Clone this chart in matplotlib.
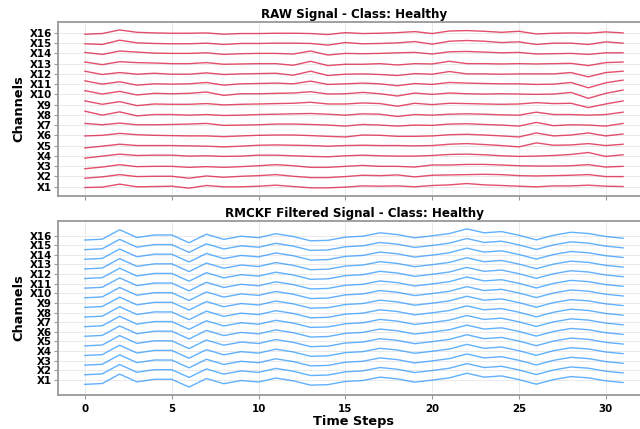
import numpy as np
import matplotlib
matplotlib.use("Agg")
import matplotlib.pyplot as plt

channels = ["X%d" % i for i in range(1, 17)]
time_steps = np.arange(32)

# raw signal per channel (X1..X16)
raw = [
    [-0.10, -0.06, 0.23, -0.03, 0, 0.03, -0.16, 0.10, -0.03, -0.03, 0.03, 0.13, 0, -0.13, -0.13, -0.06,
     0.06, 0.03, 0.06, -0.03, 0.10, 0.16, 0.29, 0.16, 0.10, 0.03, -0.03, 0.06, 0.06, 0.13, 0.03, 0],
    [-0.19, -0.06, 0.16, -0.03, 0, 0, -0.19, 0.03, -0.10, 0, 0.06, 0.16, 0, -0.13, -0.13, -0.03,
     0.10, 0.06, 0.13, -0.06, 0.10, 0.13, 0.16, 0.19, 0.16, 0.06, 0.03, 0.06, 0.10, 0.16, -0.03, -0.03],
    [-0.26, -0.10, 0.13, -0.06, -0.03, -0.03, -0.13, -0.06, -0.13, -0.06, 0.03, 0.13, 0.03, -0.13, -0.13, -0.03,
     0.06, -0.03, -0.03, -0.10, 0.10, 0.10, 0.16, 0.16, 0.10, 0.03, 0, 0, 0.03, 0.13, -0.10, -0.03],
    [-0.23, -0.03, 0.16, 0.03, 0.06, 0.06, -0.03, 0, -0.06, -0.03, 0.06, 0.06, 0, -0.06, -0.10, 0,
     0.06, 0, -0.03, -0.03, 0.03, 0.13, 0.16, 0.10, 0, -0.06, -0.03, 0.03, 0.13, 0.32, -0.06, 0.10],
    [-0.23, -0.06, 0.13, 0, 0, 0, -0.03, -0.06, -0.13, -0.06, 0.03, 0.06, 0.03, 0, -0.06, 0,
     0.03, 0, 0, -0.03, 0, 0.13, 0.19, 0.10, 0, -0.13, 0.26, 0.03, 0.06, 0.19, 0, 0.13],
    [-0.06, 0, 0.19, 0.06, 0, -0.03, -0.06, -0.06, -0.13, -0.06, 0, 0.03, 0.03, -0.03, -0.10, -0.16,
     0.03, 0, -0.10, -0.10, -0.06, 0.06, 0.10, 0.03, -0.06, -0.16, 0.23, -0.06, 0.03, 0.23, -0.06, 0.13],
    [0.16, 0.03, 0.19, 0.03, 0.03, 0.06, 0.10, 0.16, -0.03, 0, 0.03, 0.10, 0.10, 0.06, 0, -0.10,
     0.06, 0, -0.10, 0, -0.03, 0.10, 0.13, 0.06, 0, -0.10, 0.26, -0.06, 0.03, 0, -0.10, 0.16],
    [0.36, -0.03, 0.29, -0.10, 0.03, 0.03, -0.03, 0.03, -0.06, -0.03, 0.03, 0.06, 0.10, 0.13, 0.06, -0.03,
     0.10, 0.06, -0.16, 0.03, -0.03, 0.06, 0.10, 0.06, 0, -0.03, 0.26, 0.03, 0.03, -0.03, 0.03, 0.26],
    [0.36, 0.03, 0.29, -0.10, 0.06, 0.03, 0.03, 0.10, -0.03, 0.03, 0.06, 0.10, 0.13, 0.23, 0.06, 0.06,
     0.16, 0.10, -0.16, 0.13, 0, 0.13, 0.10, 0.06, 0.03, 0.06, 0.19, 0.10, 0.13, -0.29, 0.06, 0.36],
    [0.36, 0.03, 0.29, -0.06, 0.10, 0.06, 0.10, 0.23, -0.10, 0.06, 0.06, 0.10, 0.13, 0.26, 0.03, 0.06,
     0.19, 0.06, -0.16, 0.13, 0, 0.13, 0.06, 0.03, 0.06, 0.03, 0, 0.03, 0.19, -0.39, 0.10, 0.42],
    [0.32, 0, 0.23, -0.10, 0.03, 0, 0.03, 0.16, -0.10, 0.03, 0.06, 0.10, 0.03, 0.29, -0.03, 0.03,
     0.10, 0.03, -0.16, 0.06, -0.03, 0.16, 0.10, 0.06, 0.03, 0.03, -0.03, 0, 0.16, -0.36, 0.13, 0.39],
    [0.26, -0.06, 0.13, -0.03, 0.06, -0.03, -0.03, 0.10, -0.06, 0, 0.03, 0.06, -0.13, 0.26, -0.16, -0.03,
     0, -0.06, -0.16, 0.03, -0.03, 0.23, 0, 0, -0.03, 0, 0, 0, 0.13, -0.29, 0.13, 0.26],
    [0.16, -0.10, 0.19, 0.10, 0.06, 0, 0, 0.10, -0.06, -0.03, 0, 0, -0.16, 0.23, -0.19, -0.06,
     -0.06, 0, -0.13, 0, -0.03, 0.23, 0, 0, -0.03, 0, -0.03, 0, 0.03, -0.19, 0.10, 0.16],
    [0.10, -0.10, 0.23, 0.13, 0.03, 0, 0, 0.06, -0.10, -0.03, 0, 0, -0.06, 0.23, -0.16, 0,
     -0.03, 0, 0.06, 0.10, -0.06, 0.16, 0.19, 0.13, 0.06, 0.10, -0.06, -0.03, 0, -0.10, 0.06, 0.06],
    [-0.06, -0.13, 0.29, 0.03, -0.03, -0.06, -0.06, 0, -0.13, -0.03, -0.03, 0, 0, -0.03, -0.19, 0.06,
     -0.06, -0.03, 0.03, 0.16, -0.10, 0.19, 0.26, 0.19, 0.06, 0.13, -0.13, 0, 0, -0.13, 0.13, 0],
    [-0.13, -0.06, 0.29, 0.06, 0, -0.03, -0.03, 0, -0.13, -0.06, -0.06, -0.03, -0.03, -0.06, -0.16, 0.03,
     -0.06, -0.03, 0.03, 0.13, -0.06, 0.19, 0.23, 0.16, 0.06, 0.16, -0.10, -0.03, 0, -0.03, 0.10, 0],
]

# filtered signal, same shape on every channel
filtered = [-0.47, -0.38, 0.60, -0.21, 0.06, 0.06, -0.75, 0.14, -0.40, -0.07, -0.22, 0.19, -0.10, -0.55, -0.50, -0.17,
            -0.07, 0.28, 0.10, -0.24, -0.03, 0.21, 0.69, 0.28, 0.41, 0.03, -0.45, 0.03, 0.34, 0.21, -0.10, -0.28]

fig = plt.figure(figsize=(6.4, 4.29), dpi=100)
ax1 = fig.add_axes([0.0906, 0.543, 0.925, 0.4056])
ax2 = fig.add_axes([0.0906, 0.0793, 0.925, 0.4056], sharex=ax1)

def style(ax):
    ax.grid(True, color="#e6e6e6", linewidth=0.6)
    ax.set_axisbelow(True)
    for s in ax.spines.values():
        s.set_color("#999999")
        s.set_linewidth(1.3)
    ax.tick_params(length=3, width=0.8, color="#999999", labelsize=7.4)
    ax.tick_params(axis="y", pad=1.5)
    ax.set_yticks(range(16))
    ax.set_yticklabels(channels, fontweight="bold")
    ax.set_ylabel("Channels", fontsize=9.3, fontweight="bold", labelpad=3)

for i in range(16):
    ax1.plot(time_steps, np.array(raw[i]) + i, color="crimson", alpha=0.75, linewidth=1.0)
    ax2.plot(time_steps, np.array(filtered) + i, color="dodgerblue", alpha=0.7, linewidth=1.0)

style(ax1)
style(ax2)
ax1.set_title("RAW Signal - Class: Healthy", fontsize=8.6, fontweight="bold", pad=3)
ax2.set_title("RMCKF Filtered Signal - Class: Healthy", fontsize=8.6, fontweight="bold", pad=3)
plt.setp(ax1.get_xticklabels(), visible=False)
for lb in ax2.get_xticklabels():
    lb.set_fontweight("bold")
ax2.set_xlabel("Time Steps", fontsize=9.3, fontweight="bold", labelpad=1)

fig.savefig("out.png", dpi=100)
